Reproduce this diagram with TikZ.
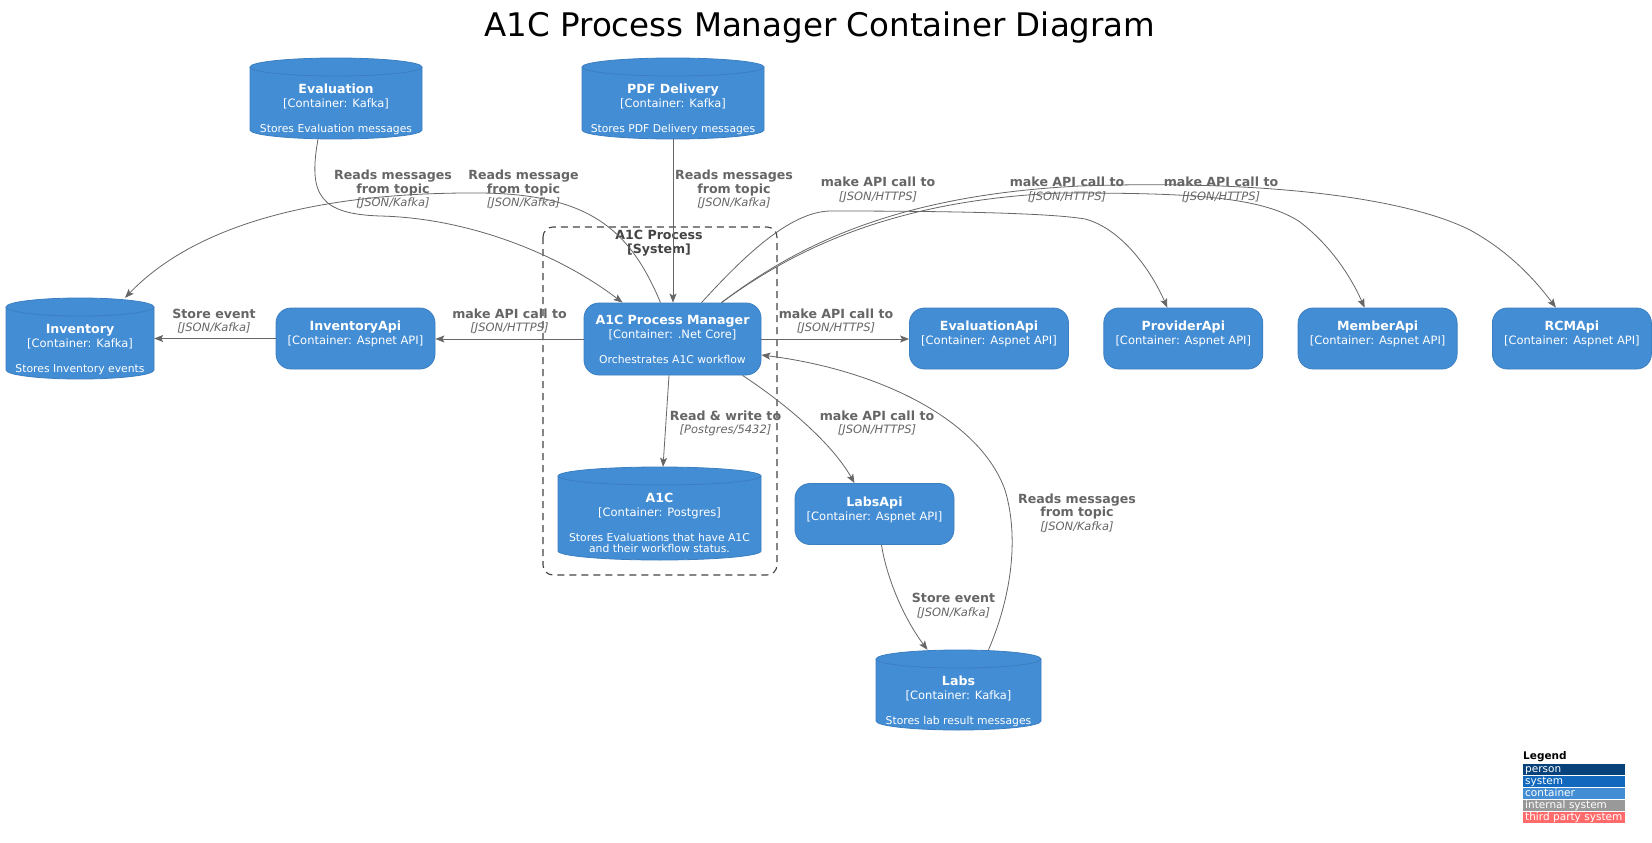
\documentclass[tikz,border=0pt]{standalone}
\usepackage{fontspec}
\setmainfont{DejaVu Sans}
\usetikzlibrary{arrows.meta, positioning, calc}
\definecolor{ctblue}{HTML}{438DD5}
\definecolor{ctedge}{HTML}{3C7FC0}
\definecolor{lnkgray}{HTML}{666666}
\definecolor{bndgray}{HTML}{444444}
\definecolor{psnblue}{HTML}{08427B}
\definecolor{sysblue}{HTML}{1168BD}
\definecolor{intgray}{HTML}{999999}
\definecolor{extred}{HTML}{FF6B6B}

% text parts of a container
\newcommand{\ctname}[1]{{\fontsize{12.6pt}{14pt}\selectfont\bfseries #1}}
\newcommand{\cttech}[1]{{\fontsize{11.5pt}{14pt}\selectfont #1}}
\newcommand{\ctdesc}[1]{{\fontsize{10.8pt}{14pt}\selectfont #1}}
\newcommand{\reltech}[1]{{\mdseries\itshape\fontsize{11.5pt}{13.5pt}\selectfont #1}}

% cylinder body: centre x, top y, width, height
\newcommand{\dbshape}[4]{%
  \filldraw[fill=ctblue, draw=ctedge, line width=0.8pt]
    (#1-#3/2,#2+9) -- (#1-#3/2,#2+#4-9)
    arc[start angle=180, end angle=360, x radius=#3pt/2, y radius=9pt]
    -- (#1+#3/2,#2+9)
    arc[start angle=0, end angle=180, x radius=#3pt/2, y radius=9pt] -- cycle;
  \draw[ctedge, line width=0.8pt] (#1-#3/2,#2+9)
    arc[start angle=180, end angle=360, x radius=#3pt/2, y radius=9pt];
}

\begin{document}
\begin{tikzpicture}[
  x=1pt, y=-1pt,
  ctbox/.style={rectangle, rounded corners=15pt, fill=ctblue, draw=ctedge,
    line width=0.8pt, text=white, align=center, inner sep=0pt,
    minimum width=159pt, minimum height=61pt,
    font=\fontsize{11.5pt}{14pt}\selectfont},
  ctdb/.style={rectangle, text=white, align=center, inner sep=0pt,
    font=\fontsize{11.5pt}{14pt}\selectfont},
  rel/.style={lnkgray, line width=0.8pt,
    -{Stealth[length=9pt, width=7pt, inset=2pt]}},
  reltxt/.style={text=lnkgray, align=center, inner sep=0pt,
    font=\fontsize{12.6pt}{13.5pt}\selectfont\bfseries},
  legbar/.style={rectangle, anchor=north west, inner xsep=2pt, inner ysep=0pt,
    text width=98pt, align=left, text=white, minimum height=10.3pt,
    text height=7.6pt, text depth=2.2pt,
    font=\fontsize{10.5pt}{10.5pt}\selectfont},
]

% Page
\fill[white] (0,0) rectangle (1652,843);
\useasboundingbox (0,0) rectangle (1652,843);

% Title
\node[font=\fontsize{32.5pt}{38pt}\selectfont, anchor=base] (title) at (820,37)
  {A1C Process Manager Container Diagram};

% System boundary
\draw[bndgray, line width=1.1pt, dash pattern=on 7pt off 5pt, rounded corners=10pt]
  (543,227) rectangle (777,575);
\node[font=\fontsize{12.6pt}{13.5pt}\selectfont\bfseries, text=bndgray, align=center,
  inner sep=0pt] (bndlbl) at (659,243) {A1C Process\\{[System]}};

% --- Kafka / Postgres stores ---
\dbshape{336}{58}{172}{81}
\node[ctdb, minimum width=172pt, minimum height=81pt] (evaldb) at (336,98.5)
  {\mbox{}\\[18pt]\ctname{Evaluation}\\\cttech{[Container: Kafka]}\\[11pt]\ctdesc{Stores Evaluation messages}};

\dbshape{673}{58}{182}{81}
\node[ctdb, minimum width=182pt, minimum height=81pt] (pdfdb) at (673,98.5)
  {\mbox{}\\[18pt]\ctname{PDF Delivery}\\\cttech{[Container: Kafka]}\\[11pt]\ctdesc{Stores PDF Delivery messages}};

\dbshape{80}{298}{148}{81}
\node[ctdb, minimum width=148pt, minimum height=81pt] (invdb) at (80,338.5)
  {\mbox{}\\[18pt]\ctname{Inventory}\\\cttech{[Container: Kafka]}\\[11pt]\ctdesc{Stores Inventory events}};

\dbshape{659.5}{467}{203}{93}
\node[ctdb, minimum width=203pt, minimum height=93pt] (a1cdb) at (659.5,513.5)
  {\mbox{}\\[14pt]\ctname{A1C}\\\cttech{[Container: Postgres]}\\[11pt]\ctdesc{Stores Evaluations that have A1C}\\[-3pt]\ctdesc{and their workflow status.}};

\dbshape{958.5}{650}{165}{80}
\node[ctdb, minimum width=165pt, minimum height=80pt] (labsdb) at (958.5,690)
  {\mbox{}\\[18pt]\ctname{Labs}\\\cttech{[Container: Kafka]}\\[11pt]\ctdesc{Stores lab result messages}};

% --- Services ---
\node[ctbox, minimum width=177pt, minimum height=72pt] (mgr) at (672.5,339)
  {\ctname{A1C Process Manager}\\\cttech{[Container: .Net Core]}\\[11pt]\ctdesc{Orchestrates A1C workflow}};
\node[ctbox] (invapi) at (355.5,338.5)
  {\ctname{InventoryApi}\\\cttech{[Container: Aspnet API]}\\[-3pt]\mbox{}};
\node[ctbox] (evalapi) at (989,338.5)
  {\ctname{EvaluationApi}\\\cttech{[Container: Aspnet API]}\\[-3pt]\mbox{}};
\node[ctbox, right=34.5pt of evalapi] (provapi)
  {\ctname{ProviderApi}\\\cttech{[Container: Aspnet API]}\\[-3pt]\mbox{}};
\node[ctbox, right=34.5pt of provapi] (memapi)
  {\ctname{MemberApi}\\\cttech{[Container: Aspnet API]}\\[-3pt]\mbox{}};
\node[ctbox, right=34.5pt of memapi] (rcmapi)
  {\ctname{RCMApi}\\\cttech{[Container: Aspnet API]}\\[-3pt]\mbox{}};
\node[ctbox] (labsapi) at (874.5,514)
  {\ctname{LabsApi}\\\cttech{[Container: Aspnet API]}\\[-3pt]\mbox{}};

% --- Relations ---
\draw[rel] ([xshift=-18pt]evaldb.south) .. controls (308,195) and (320,214) .. (380,216)
  .. controls (470,218) and (560,255) .. ([xshift=-50pt]mgr.north);
\draw[rel] ([xshift=-12pt]mgr.north) .. controls (630,230) and (590,194) .. (480,193)
  .. controls (330,192) and (200,220) .. ([xshift=45pt]invdb.north);
\draw[rel] (pdfdb.south) -- (pdfdb.south |- mgr.north);
\draw[rel] (mgr.west) -- (mgr.west -| invapi.east);
\draw[rel] (invapi.west) -- (invapi.west -| invdb.east);
\draw[rel] (mgr.east) -- (mgr.east -| evalapi.west);
\draw[rel] ([xshift=29pt]mgr.north) .. controls (745,255) and (790,212) .. (830,211)
  .. controls (950,211) and (1050,213) .. (1085,219)
  .. controls (1120,228) and (1150,268) .. ([xshift=-16pt]provapi.north);
\draw[rel] ([xshift=49pt]mgr.north) .. controls (800,245) and (900,200) .. (1060,193)
  .. controls (1180,193) and (1260,195) .. (1300,222)
  .. controls (1330,245) and (1350,275) .. ([xshift=-13pt]memapi.north);
\draw[rel] ([xshift=49pt]mgr.north) .. controls (800,243) and (900,195) .. (1080,186)
  .. controls (1250,180) and (1400,195) .. (1470,230)
  .. controls (1510,252) and (1535,280) .. ([xshift=-16pt]rcmapi.north);
\draw[rel] ([xshift=-3.5pt]mgr.south) -- ([xshift=3.5pt]a1cdb.north);
\draw[rel] ([xshift=70pt]mgr.south) .. controls (780,400) and (830,440)
  .. ([xshift=-20pt]labsapi.north);
\draw[rel] ([xshift=7pt]labsapi.south) .. controls (887,580) and (905,620)
  .. ([xshift=-31pt]labsdb.north);
\draw[rel] ([xshift=30pt]labsdb.north) .. controls (1010,600) and (1020,540) .. (1005,490)
  .. controls (980,420) and (880,370) .. ([yshift=-16pt]mgr.east);

% --- Relation labels ---
\node[reltxt] (lblevalmsg) at (393,189.5) {Reads messages\\from topic\\\reltech{[JSON/Kafka]}};
\node[reltxt] (lblinvmsg) at (523.5,189.5) {Reads message\\from topic\\\reltech{[JSON/Kafka]}};
\node[reltxt] (lblpdfmsg) at (734,189.5) {Reads messages\\from topic\\\reltech{[JSON/Kafka]}};
\node[reltxt] (lblinvapi) at (509.5,321.5) {make API call to\\\reltech{[JSON/HTTPS]}};
\node[reltxt] (lblinvstore) at (214,321.5) {Store event\\\reltech{[JSON/Kafka]}};
\node[reltxt] (lblevalapi) at (836,321.5) {make API call to\\\reltech{[JSON/HTTPS]}};
\node[reltxt] (lblprov) at (878,190) {make API call to\\\reltech{[JSON/HTTPS]}};
\node[reltxt] (lblmem) at (1067,190) {make API call to\\\reltech{[JSON/HTTPS]}};
\node[reltxt] (lblrcm) at (1221,190) {make API call to\\\reltech{[JSON/HTTPS]}};
\node[reltxt] (lbla1c) at (725.5,423.5) {Read \& write to\\\reltech{[Postgres/5432]}};
\node[reltxt] (lbllabsapi) at (877,423.5) {make API call to\\\reltech{[JSON/HTTPS]}};
\node[reltxt] (lbllabsstore) at (953.5,606) {Store event\\\reltech{[JSON/Kafka]}};
\node[reltxt] (lbllabsmsg) at (1077,513) {Reads messages\\from topic\\\reltech{[JSON/Kafka]}};

% --- Legend ---
\node[font=\fontsize{10.5pt}{12pt}\selectfont\bfseries, anchor=west, inner sep=0pt]
  (legtitle) at (1523,757) {Legend};
\node[legbar, fill=psnblue] (legperson) at (1523,764) {person};
\node[legbar, fill=sysblue, below=1.3pt of legperson] (legsystem) {system};
\node[legbar, fill=ctblue, below=1.3pt of legsystem] (legcontainer) {container};
\node[legbar, fill=intgray, below=1.3pt of legcontainer] (leginternal) {internal system};
\node[legbar, fill=extred, below=1.3pt of leginternal] (legexternal) {\mbox{third party system}};

\end{tikzpicture}
\end{document}
